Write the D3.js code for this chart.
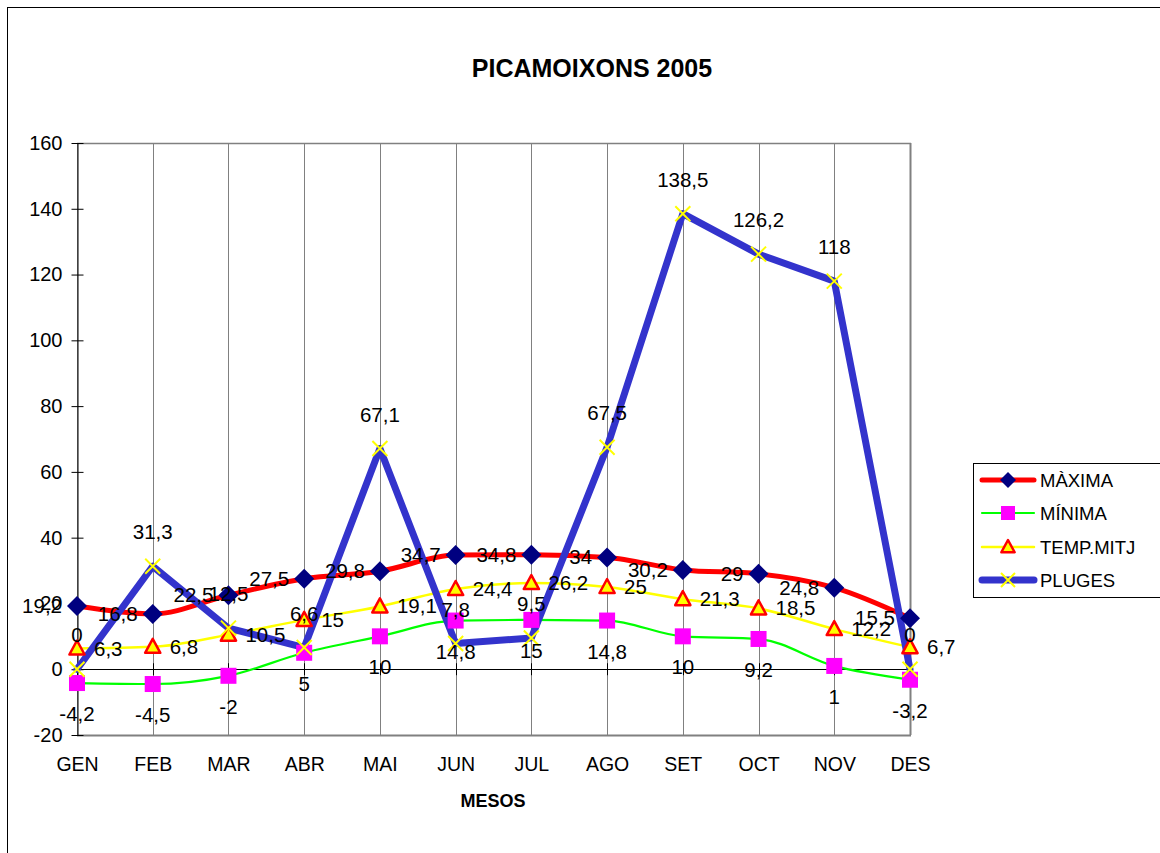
<!DOCTYPE html>
<html>
<head>
<meta charset="utf-8">
<script src="https://cdn.jsdelivr.net/npm/d3@7"></script>
<style>
  html, body { margin: 0; padding: 0; background: #fff; }
  svg { display: block; font-family: Arial, "Liberation Sans", sans-serif; }
</style>
</head>
<body>
<svg id="chart" width="1160" height="853"></svg>
<script>
const months = ["GEN","FEB","MAR","ABR","MAI","JUN","JUL","AGO","SET","OCT","NOV","DES"];
const maxima = [19.2,16.8,22.5,27.5,29.8,34.7,34.8,34,30.2,29,24.8,15.5];
const minima = [-4.2,-4.5,-2,5,10,14.8,15,14.8,10,9.2,1,-3.2];
const mitj   = [6.3,6.8,10.5,15,19.1,24.4,26.2,25,21.3,18.5,12.2,6.7];
const pluges = [0,31.3,12.5,6.6,67.1,7.8,9.5,67.5,138.5,126.2,118,0];
const yTicks = [-20,0,20,40,60,80,100,120,140,160];
const seriesNames = ["MÀXIMA","MÍNIMA","TEMP.MITJ","PLUGES"];

const svg = d3.select("#chart");
const L = 77, R = 910, T = 143, B = 735;

const x = d3.scalePoint().domain(months).range([L, R]);
const y = d3.scaleLinear().domain([-20, 160]).range([B, T]);

// outer frame
svg.append("rect").attr("x", 7.5).attr("y", 7.5).attr("width", 1300).attr("height", 1000)
  .attr("fill", "none").attr("stroke", "#000").attr("stroke-width", 1);

// title
svg.append("text").attr("x", 592).attr("y", 77).attr("text-anchor", "middle")
  .attr("font-size", 25).attr("font-weight", "bold").text("PICAMOIXONS 2005");

// vertical gridlines
svg.append("g").selectAll("line").data(months).join("line")
  .attr("x1", d => Math.round(x(d)) + 0.5).attr("x2", d => Math.round(x(d)) + 0.5)
  .attr("y1", T).attr("y2", B)
  .attr("stroke", "#808080").attr("stroke-width", 1);

// plot border top and bottom
svg.append("line").attr("x1", L).attr("x2", R + 1).attr("y1", T + 0.5).attr("y2", T + 0.5)
  .attr("stroke", "#808080").attr("stroke-width", 1.5);
svg.append("line").attr("x1", L).attr("x2", R + 1).attr("y1", B + 0.5).attr("y2", B + 0.5)
  .attr("stroke", "#808080").attr("stroke-width", 2);
svg.append("line").attr("x1", Math.round(R) + 0.5).attr("x2", Math.round(R) + 0.5).attr("y1", T).attr("y2", B)
  .attr("stroke", "#808080").attr("stroke-width", 2);

// y axis
const yAxis = d3.axisLeft(y).tickValues(yTicks).tickSizeInner(6).tickSizeOuter(0).tickPadding(9)
  .tickFormat(d => String(d));
const gy = svg.append("g").attr("transform", `translate(${L + 0.5},0)`).call(yAxis);
gy.select(".domain").attr("stroke", "#000");
gy.selectAll(".tick line").attr("x2", 6).attr("x1", -6).attr("stroke", "#000");
gy.selectAll(".tick text").attr("font-size", 20).attr("font-family", "Arial, 'Liberation Sans', sans-serif").attr("fill", "#000");
gy.selectAll(".tick text").attr("x", -15);

// zero line (category axis)
svg.append("line").attr("x1", L).attr("x2", R).attr("y1", Math.round(y(0)) + 0.5).attr("y2", Math.round(y(0)) + 0.5)
  .attr("stroke", "#000").attr("stroke-width", 1);
svg.append("g").selectAll("line").data(months).join("line")
  .attr("x1", d => Math.round(x(d)) + 0.5).attr("x2", d => Math.round(x(d)) + 0.5)
  .attr("y1", y(0) - 6).attr("y2", y(0) + 6).attr("stroke", "#000");

// x axis labels at bottom
const xAxis = d3.axisBottom(x).tickSize(0).tickPadding(22);
const gx = svg.append("g").attr("transform", `translate(0,${B})`).call(xAxis);
gx.select(".domain").remove();
gx.selectAll(".tick text").attr("font-size", 19.5).attr("font-family", "Arial, 'Liberation Sans', sans-serif").attr("fill", "#000");

svg.append("text").attr("x", 493).attr("y", 807).attr("text-anchor", "middle")
  .attr("font-size", 18).attr("font-weight", "bold").text("MESOS");

// lines
const smooth = d3.line().x((d, i) => x(months[i])).y(d => y(d)).curve(d3.curveMonotoneX);
const straight = d3.line().x((d, i) => x(months[i])).y(d => y(d));

const plot = svg.append("g");
plot.append("path").attr("d", smooth(maxima)).attr("fill", "none").attr("stroke", "#ff0000").attr("stroke-width", 5).attr("stroke-linejoin", "round");
plot.append("path").attr("d", smooth(minima)).attr("fill", "none").attr("stroke", "#00ff00").attr("stroke-width", 2.2);
plot.append("path").attr("d", smooth(mitj)).attr("fill", "none").attr("stroke", "#ffff00").attr("stroke-width", 2.5);
plot.append("path").attr("d", straight(pluges)).attr("fill", "none").attr("stroke", "#3333cc").attr("stroke-width", 7).attr("stroke-linejoin", "round").attr("stroke-linecap", "round");

// markers
function diamond(g, cx, cy, s) {
  g.append("path").attr("d", `M${cx},${cy - s}L${cx + s},${cy}L${cx},${cy + s}L${cx - s},${cy}Z`).attr("fill", "#000080");
}
function square(g, cx, cy, s) {
  g.append("rect").attr("x", cx - s).attr("y", cy - s).attr("width", 2 * s).attr("height", 2 * s).attr("fill", "#ff00ff");
}
function triangle(g, cx, cy, s) {
  g.append("path").attr("d", `M${cx},${cy - s}L${cx + s * 0.95},${cy + s * 0.75}L${cx - s * 0.95},${cy + s * 0.75}Z`)
    .attr("fill", "#ffff00").attr("stroke", "#ff0000").attr("stroke-width", 2.5).attr("stroke-linejoin", "round");
}
function cross(g, cx, cy, s) {
  g.append("path").attr("d", `M${cx - s},${cy - s}L${cx + s},${cy + s}M${cx - s},${cy + s}L${cx + s},${cy - s}`)
    .attr("stroke", "#ffff00").attr("stroke-width", 2).attr("fill", "none");
}

const mk = svg.append("g");
maxima.forEach((v, i) => diamond(mk, x(months[i]), y(v), 10));
minima.forEach((v, i) => square(mk, x(months[i]), y(v), 8));
mitj.forEach((v, i) => triangle(mk, x(months[i]), y(v), 8));
pluges.forEach((v, i) => cross(mk, x(months[i]), y(v), 7.5));

// data labels
const fmt = v => String(v).replace(".", ",");
const lab = svg.append("g").attr("font-size", 20.5).attr("fill", "#000");
maxima.forEach((v, i) => lab.append("text").attr("x", x(months[i]) - 15).attr("y", y(v) + 7)
  .attr("text-anchor", "end").text(fmt(v)));
minima.forEach((v, i) => lab.append("text").attr("x", x(months[i])).attr("y", y(v) + 38)
  .attr("text-anchor", "middle").text(fmt(v)));
mitj.forEach((v, i) => lab.append("text").attr("x", x(months[i]) + 17).attr("y", y(v) + 7)
  .attr("text-anchor", "start").text(fmt(v)));
pluges.forEach((v, i) => lab.append("text").attr("x", x(months[i])).attr("y", y(v) - 27)
  .attr("text-anchor", "middle").text(fmt(v)));

// legend
const lg = svg.append("g");
lg.append("rect").attr("x", 973.5).attr("y", 463.5).attr("width", 300).attr("height", 134)
  .attr("fill", "#fff").attr("stroke", "#000").attr("stroke-width", 1);
const rows = [480, 513, 547, 580];
const lstyles = [
  {c: "#ff0000", w: 5}, {c: "#00ff00", w: 2.2}, {c: "#ffff00", w: 2.5}, {c: "#3333cc", w: 7}
];
seriesNames.forEach((n, i) => {
  const ry = rows[i];
  lg.append("line").attr("x1", 982).attr("x2", 1034).attr("y1", ry).attr("y2", ry)
    .attr("stroke", lstyles[i].c).attr("stroke-width", lstyles[i].w).attr("stroke-linecap", "round");
  if (i === 0) diamond(lg, 1008, ry, 8);
  if (i === 1) square(lg, 1008, ry, 7);
  if (i === 2) triangle(lg, 1008, ry, 7);
  if (i === 3) cross(lg, 1008, ry, 7);
  lg.append("text").attr("x", 1040).attr("y", ry + 7).attr("font-size", 18.5).text(n);
});
</script>
</body>
</html>
